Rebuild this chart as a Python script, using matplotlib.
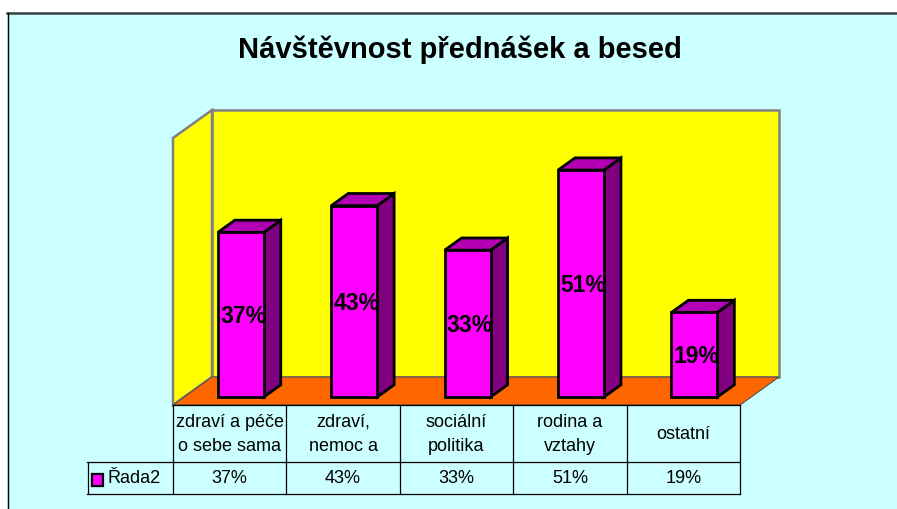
import matplotlib
matplotlib.use("Agg")
import matplotlib.pyplot as plt
from matplotlib.patches import Polygon, Rectangle
from matplotlib.lines import Line2D
from matplotlib.transforms import blended_transform_factory

plt.rcParams['font.family'] = ['Liberation Sans', 'DejaVu Sans']

# ---- data ----
title = "Návštěvnost přednášek a besed"
categories = ["zdraví a péče\no sebe sama", "zdraví,\nnemoc a", "sociální\npolitika",
              "rodina a\nvztahy", "ostatní"]
series_name = "Řada2"
values = [37, 43, 33, 51, 19]
value_labels = ["37%", "43%", "33%", "51%", "19%"]
y_max = 60

# ---- figure ----
W, H = 897, 509
fig = plt.figure(figsize=(W / 100, H / 100), dpi=100)
fig.patch.set_facecolor("white")

def fx(px):
    return px / W

def fy(py):
    return 1 - py / H

# chart area background
fig.patches.append(Rectangle((fx(7), fy(H + 5)), fx(W + 10 - 7), fy(12) - fy(H + 5),
                             transform=fig.transFigure, facecolor="#CCFFFF",
                             edgecolor="none", zorder=-5))
fig.lines.append(Line2D([fx(7), fx(W)], [fy(12.5), fy(12.5)], transform=fig.transFigure,
                        color="#404040", lw=1.8, zorder=-4))
fig.lines.append(Line2D([fx(7.5), fx(7.5)], [fy(13), fy(H)], transform=fig.transFigure,
                        color="black", lw=1.0, zorder=-4))

fig.text(fx(460), fy(58), title, ha="center", va="baseline", fontsize=21,
         fontweight="bold", color="black")

# front plane of the 3D plot
left_px, right_px, top_px, bot_px = 173, 740, 138, 405
ax = fig.add_axes([fx(left_px), fy(bot_px), fx(right_px) - fx(left_px), fy(top_px) - fy(bot_px)])
ncat = len(values)
ax.set_xlim(0, ncat)
ax.set_ylim(0, y_max)
ax.axis("off")
ax.patch.set_alpha(0)

px_per_cat = (right_px - left_px) / ncat
px_per_val = (bot_px - top_px) / y_max
DX = 39 / px_per_cat
DY = 28 / px_per_val

def P(x, y, d):
    return (x + d * DX, y + d * DY)

def poly(pts, fc, ec, lw, z):
    ax.add_patch(Polygon(pts, closed=True, facecolor=fc, edgecolor=ec, lw=lw,
                         joinstyle="miter", zorder=z, clip_on=False))

# walls and floor
poly([P(0, 0, 1), P(ncat, 0, 1), P(ncat, y_max, 1), P(0, y_max, 1)], "#FFFF00", "#808080", 1.8, 1)
poly([P(0, 0, 0), P(0, 0, 1), P(0, y_max, 1), P(0, y_max, 0)], "#FFFF00", "#808080", 1.8, 1)
poly([P(0, 0, 0), P(ncat, 0, 0), P(ncat, 0, 1), P(0, 0, 1)], "#FF6600", "#505050", 0.8, 2)

# bars
d1, d2 = 0.286, 0.72
bw = 0.405
for i, v in enumerate(values):
    x0 = i + 0.5 - bw / 2
    x1 = i + 0.5 + bw / 2
    # side
    poly([P(x1, 0, d1), P(x1, 0, d2), P(x1, v, d2), P(x1, v, d1)], "#800080", "black", 2.0, 3)
    # top
    poly([P(x0, v, d1), P(x1, v, d1), P(x1, v, d2), P(x0, v, d2)], "#B400B4", "black", 2.0, 3)
    # front
    poly([P(x0, 0, d1), P(x1, 0, d1), P(x1, v, d1), P(x0, v, d1)], "#FF00FF", "black", 2.0, 4)
    cx, cy = P(i + 0.5, v / 2, d1)
    ax.text(cx + 0.02, cy - 0.5, value_labels[i], ha="center", va="center", fontsize=16.5,
            fontweight="bold", color="black", zorder=5, clip_on=False)

# ---- data table ----
tr = blended_transform_factory(ax.transData, fig.transFigure)
row1_top, row_mid, row_bot = 405, 462, 494
leg_left = 87
lc = "black"
lw = 0.9
for i in range(ncat + 1):
    fig.lines.append(Line2D([i, i], [fy(row1_top), fy(row_bot)], transform=tr, color=lc, lw=lw, zorder=3))
fig.lines.append(Line2D([0, ncat], [fy(row1_top), fy(row1_top)], transform=tr, color=lc, lw=lw, zorder=3))
fig.lines.append(Line2D([fx(leg_left), fx(right_px)], [fy(row_mid), fy(row_mid)],
                        transform=fig.transFigure, color=lc, lw=lw, zorder=3))
fig.lines.append(Line2D([fx(leg_left), fx(right_px)], [fy(row_bot), fy(row_bot)],
                        transform=fig.transFigure, color=lc, lw=lw, zorder=3))
fig.lines.append(Line2D([fx(leg_left + 0.5), fx(leg_left + 0.5)], [fy(row_mid), fy(row_bot)],
                        transform=fig.transFigure, color=lc, lw=lw, zorder=3))

for i, cat in enumerate(categories):
    fig.text(0, 0, cat, transform=tr, ha="center", va="center", fontsize=13,
             linespacing=1.55, color="black").set_position((i + 0.5, fy((row1_top + row_mid) / 2 + 1)))
    fig.text(0, 0, value_labels[i], transform=tr, ha="center", va="center", fontsize=13,
             color="black").set_position((i + 0.5, fy((row_mid + row_bot) / 2 + 0.5)))

# legend key
fig.patches.append(Rectangle((fx(92), fy(486)), fx(11), fy(474) - fy(486), transform=fig.transFigure,
                             facecolor="#FF00FF", edgecolor="black", lw=1.6, zorder=4))
fig.text(fx(107), fy((row_mid + row_bot) / 2 + 0.5), series_name, ha="left", va="center",
         fontsize=13, color="black")

fig.savefig("out.png", dpi=100)
